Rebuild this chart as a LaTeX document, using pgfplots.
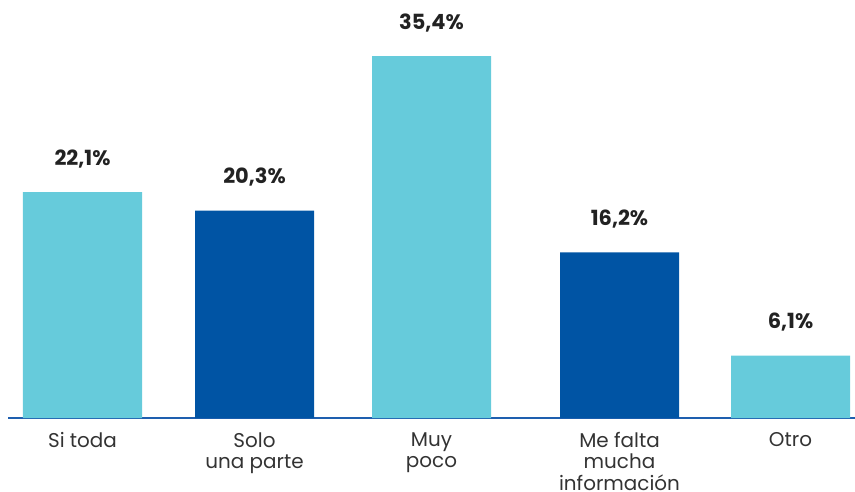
\documentclass[border=0pt]{standalone}
\usepackage{fontspec}
\setmainfont{Poppins}
\usepackage{pgfplots}
\pgfplotsset{compat=1.18}
\definecolor{lightbar}{RGB}{102,203,219}
\definecolor{darkbar}{RGB}{0,84,164}
\definecolor{baseln}{RGB}{30,95,175}
\definecolor{labelgray}{RGB}{51,51,51}
\definecolor{valtext}{RGB}{34,34,34}

\begin{document}
\begin{tikzpicture}
\path[use as bounding box] (-8bp,-74bp) rectangle (847bp,418bp);
\begin{axis}[
  scale only axis, width=847bp, height=418bp,
  ybar, bar width=119bp, bar shift=0pt,
  xmin=-0.4209, xmax=4.3644, ymin=0, ymax=40.9,
  axis x line=bottom, axis y line=none,
  x axis line style={draw=baseln, line width=1.6bp, -},
  xtick={0,0.9718,1.9718,3.0339,4},
  xticklabels={Si toda, Solo\\una parte, Muy\\poco, Me falta\\mucha\\información, Otro},
  xtick style={draw=none},
  xticklabel style={font=\fontsize{20}{21.5}\selectfont, text=labelgray,
    align=center, anchor=north, inner sep=0pt, yshift=-12bp},
  nodes near coords, point meta=explicit symbolic,
  every node near coord/.append style={font=\fontsize{21}{24}\selectfont\bfseries,
    text=valtext, anchor=base, inner sep=0pt, yshift=27bp},
  clip=false,
]
\addplot[fill=lightbar, draw=none] coordinates
  {(0,22.1) [22,1\%] (1.9718,35.4) [35,4\%] (4,6.1) [6,1\%]};
\addplot[fill=darkbar, draw=none] coordinates
  {(0.9718,20.3) [20,3\%] (3.0339,16.2) [16,2\%]};
\end{axis}
\end{tikzpicture}
\end{document}
